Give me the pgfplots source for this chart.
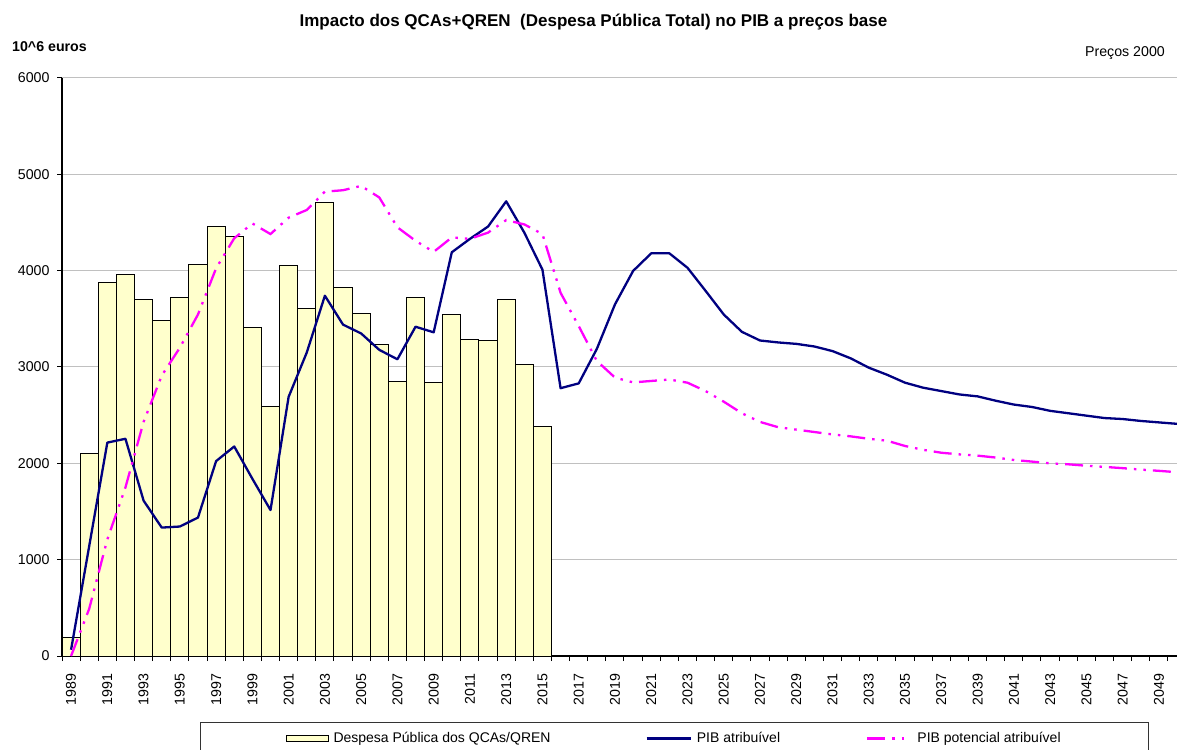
\documentclass[border=0pt]{standalone}
\usepackage{fontspec}
\setmainfont{Liberation Sans}
\usepackage{pgfplots}
\pgfplotsset{compat=1.18}
\usepackage{pgfplotstable}
\definecolor{barfill}{HTML}{FFFFCC}
\definecolor{navyc}{HTML}{000080}
\definecolor{magc}{HTML}{FF00FF}
\definecolor{gridc}{HTML}{C0C0C0}
\newcommand\tickfont{\fontsize{14.2}{16}\selectfont}
\pgfplotsset{
  lineleg/.style={legend image code/.code={\draw[##1] (0pt,0pt) -- (44pt,0pt);}},
  barleg/.style={legend image code/.code={\draw[fill=barfill, draw=black, line width=1pt] (0pt,-3pt) rectangle (41pt,3pt);}},
}

\pgfplotstableread{
year val
1989 190
1990 2100
1991 3880
1992 3960
1993 3700
1994 3480
1995 3720
1996 4060
1997 4460
1998 4350
1999 3410
2000 2590
2001 4050
2002 3610
2003 4710
2004 3830
2005 3560
2006 3230
2007 2850
2008 3720
2009 2840
2010 3540
2011 3290
2012 3280
2013 3700
2014 3030
2015 2380
}\bars

\pgfplotstableread{
year val
1989 65
1990 1140
1991 2215
1992 2255
1993 1613
1994 1333
1995 1344
1996 1437
1997 2023
1998 2175
1999 1840
2000 1515
2001 2690
2002 3150
2003 3740
2004 3440
2005 3348
2006 3178
2007 3080
2008 3418
2009 3360
2010 4191
2011 4330
2012 4458
2013 4720
2014 4395
2015 4010
2016 2780
2017 2830
2018 3188
2019 3650
2020 3997
2021 4180
2022 4180
2023 4030
2024 3790
2025 3545
2026 3365
2027 3275
2028 3255
2029 3240
2030 3213
2031 3165
2032 3090
2033 2993
2034 2920
2035 2837
2036 2785
2037 2750
2038 2715
2039 2695
2040 2650
2041 2610
2042 2585
2043 2545
2044 2520
2045 2495
2046 2470
2047 2460
2048 2440
2049 2425
2050 2410
}\pib

\pgfplotstableread{
year val
1989 0
1990 490
1991 1210
1992 1750
1993 2430
1994 2910
1995 3200
1996 3545
1997 4025
1998 4336
1999 4490
2000 4380
2001 4550
2002 4630
2003 4820
2004 4835
2005 4880
2006 4760
2007 4450
2008 4310
2009 4195
2010 4345
2011 4330
2012 4395
2013 4525
2014 4480
2015 4380
2016 3770
2017 3425
2018 3063
2019 2890
2020 2840
2021 2855
2022 2870
2023 2837
2024 2750
2025 2640
2026 2520
2027 2430
2028 2375
2029 2350
2030 2325
2031 2300
2032 2280
2033 2255
2034 2235
2035 2180
2036 2140
2037 2110
2038 2093
2039 2080
2040 2060
2041 2035
2042 2018
2043 2000
2044 1990
2045 1975
2046 1963
2047 1950
2048 1935
2049 1922
2050 1908
}\pot

\begin{document}
\begin{tikzpicture}
\useasboundingbox (0,0) rectangle (1177pt,749pt);
\node[font=\bfseries\fontsize{17}{20}\selectfont, anchor=base] at (593.5pt,722pt) {Impacto dos QCAs+QREN~ (Despesa Pública Total) no PIB a preços base};
\node[font=\bfseries\tickfont, anchor=base west, inner sep=0pt] at (12pt,697pt) {10\^{}6 euros};
\node[font=\tickfont, anchor=base east, inner sep=0pt] at (1165pt,692pt) {Preços 2000};
\begin{axis}[
  at={(62pt,93pt)}, anchor=south west,
  width=1115pt, height=578pt, scale only axis,
  xmin=1988.5, xmax=2050, ymin=0, ymax=6000,
  axis lines*=left,
  axis line style={black, line width=1.2pt},
  ytick={0,1000,...,6000},
  ymajorgrids,
  major grid style={gridc, line width=1pt},
  tick align=outside,
  major tick length=5pt,
  tick style={black, line width=1pt},
  xtick={1988.5,1989.5,...,2049.5},
  xticklabels={},
  extra x ticks={1989,1991,...,2049},
  extra x tick labels={1989,1991,1993,1995,1997,1999,2001,2003,2005,2007,2009,2011,2013,2015,2017,2019,2021,2023,2025,2027,2029,2031,2033,2035,2037,2039,2041,2043,2045,2047,2049},
  extra x tick style={major tick length=0pt, grid=none},
  xticklabel shift=14pt,
  yticklabel shift=4pt,
  xticklabel style={rotate=90, anchor=east, font=\tickfont},
  yticklabel style={font=\tickfont},
  /pgf/number format/.cd, 1000 sep={}, assume math mode=true, /pgfplots/.cd,
  legend columns=3,
  legend cell align=left,
  legend style={
    at={(0.12377,-0.11419)}, anchor=north west,
    draw=black!80, line width=1pt,
    inner xsep=86pt, inner ysep=8pt,
    font=\fontsize{14}{16}\selectfont,
    /tikz/column 1/.style={column sep=3pt},
    /tikz/column 3/.style={column sep=3pt},
    /tikz/column 5/.style={column sep=3pt},
    /tikz/column 2/.style={column sep=93pt},
    /tikz/column 4/.style={column sep=84pt},
  },
]
\addplot[ybar, bar width=1, fill=barfill, draw=black, line width=1pt, barleg]
  table[x=year, y=val] {\bars};
\addlegendentry{Despesa Pública dos QCAs/QREN}
\addplot[navyc, line width=2.3pt, line join=round, no markers, lineleg]
  table[x=year, y=val] {\pib};
\addlegendentry{PIB atribuível}
\addplot[magc, line width=2.3pt, no markers,
  dash pattern=on 18pt off 7pt on 2.5pt off 7pt on 2.5pt off 7pt, lineleg]
  table[x=year, y=val] {\pot};
\addlegendentry{PIB potencial atribuível}
\end{axis}
\end{tikzpicture}
\end{document}
